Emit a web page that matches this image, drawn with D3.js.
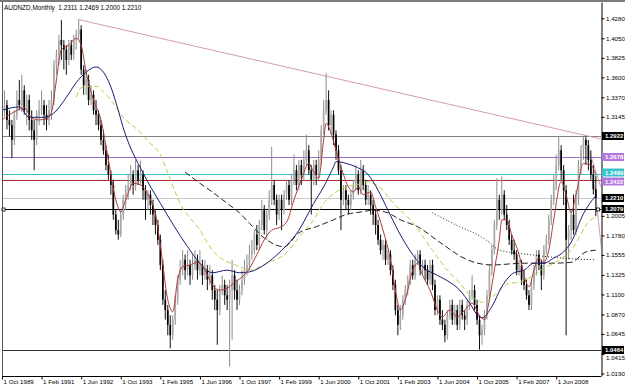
<!DOCTYPE html>
<html>
<head>
<meta charset="utf-8">
<script src="https://cdn.jsdelivr.net/npm/d3@7"></script>
<style>
  body { margin: 0; background: #fff; }
  svg text { font-family: "Liberation Sans", Arial, sans-serif; }
</style>
</head>
<body>
<div id="chart"></div>
<script>
// monthly AUDNZD bars, Oct 1989 .. Oct 2009
const opens = [
  1.317,1.322,1.328,
  1.311,1.305,1.288,1.317,1.334,1.328,1.345,1.322,1.334,1.311,1.299,1.288,
  1.317,1.322,1.328,1.317,1.311,1.322,1.334,1.374,1.386,1.403,1.397,1.392,
  1.380,1.397,1.386,1.403,1.409,1.415,1.369,1.351,1.357,1.334,1.340,1.322,
  1.317,1.305,1.288,1.276,1.259,1.248,1.236,1.202,1.184,1.179,1.202,1.219,
  1.230,1.236,1.248,1.236,1.253,1.242,1.248,1.230,1.219,1.225,1.213,1.202,
  1.190,1.173,1.144,1.104,1.092,1.075,1.063,1.081,1.104,1.127,1.138,1.150,
  1.138,1.144,1.132,1.144,1.150,1.138,1.144,1.132,1.138,1.127,1.132,1.115,
  1.104,1.092,1.115,1.121,1.109,1.104,1.115,1.132,1.115,1.104,1.115,1.127,
  1.138,1.144,1.156,1.161,1.179,1.167,1.190,1.207,1.184,1.202,1.219,1.236,
  1.219,1.202,1.219,1.207,1.225,1.236,1.219,1.242,1.253,1.236,1.259,1.248,
  1.265,1.276,1.253,1.242,1.259,1.248,1.265,1.299,1.322,1.334,1.305,1.317,
  1.294,1.276,1.253,1.219,1.230,1.219,1.213,1.225,1.236,1.248,1.230,1.253,
  1.236,1.219,1.225,1.213,1.202,1.190,1.173,1.161,1.167,1.150,1.156,1.138,
  1.121,1.092,1.075,1.086,1.104,1.115,1.127,1.144,1.132,1.150,1.156,1.138,
  1.144,1.138,1.127,1.144,1.121,1.092,1.104,1.081,1.075,1.063,1.086,1.098,
  1.081,1.092,1.075,1.098,1.086,1.081,1.098,1.109,1.115,1.098,1.081,1.063,
  1.069,1.086,1.109,1.138,1.161,1.190,1.219,1.207,1.225,1.202,1.190,1.173,
  1.161,1.156,1.138,1.144,1.127,1.121,1.109,1.098,1.121,1.138,1.156,1.144,
  1.132,1.161,1.173,1.196,1.219,1.236,1.259,1.276,1.253,1.230,1.173,1.184,
  1.202,1.184,1.219,1.259,1.276,1.288,1.282,1.265,1.248,1.2311
];
const highs = [
  1.338,1.345,1.334,
  1.322,1.311,1.322,1.345,1.357,1.363,1.351,1.340,1.340,1.322,1.311,1.322,
  1.334,1.345,1.334,1.328,1.334,1.345,1.380,1.392,1.409,1.426,1.403,1.397,
  1.403,1.403,1.409,1.415,1.427,1.420,1.374,1.369,1.363,1.351,1.345,1.334,
  1.322,1.311,1.299,1.282,1.271,1.253,1.242,1.207,1.196,1.207,1.225,1.236,
  1.248,1.259,1.253,1.265,1.259,1.264,1.253,1.236,1.230,1.230,1.219,1.207,
  1.196,1.179,1.150,1.115,1.098,1.086,1.086,1.109,1.132,1.150,1.161,1.156,
  1.161,1.150,1.156,1.161,1.156,1.161,1.150,1.150,1.144,1.144,1.138,1.121,
  1.115,1.121,1.132,1.127,1.121,1.127,1.150,1.138,1.127,1.121,1.138,1.150,
  1.156,1.167,1.173,1.184,1.190,1.196,1.219,1.213,1.207,1.230,1.280,1.242,
  1.225,1.225,1.225,1.230,1.242,1.242,1.248,1.271,1.259,1.265,1.265,1.276,
  1.294,1.282,1.259,1.265,1.265,1.276,1.305,1.334,1.365,1.345,1.322,1.322,
  1.299,1.282,1.259,1.236,1.236,1.225,1.230,1.242,1.259,1.253,1.265,1.259,
  1.242,1.236,1.230,1.219,1.207,1.196,1.179,1.173,1.173,1.161,1.161,1.144,
  1.127,1.098,1.098,1.109,1.121,1.132,1.150,1.150,1.156,1.161,1.161,1.150,
  1.150,1.144,1.150,1.150,1.127,1.109,1.109,1.092,1.081,1.092,1.104,1.104,
  1.098,1.098,1.104,1.104,1.092,1.104,1.115,1.132,1.121,1.104,1.086,1.075,
  1.092,1.115,1.144,1.167,1.196,1.244,1.225,1.246,1.230,1.213,1.196,1.179,
  1.173,1.161,1.150,1.150,1.138,1.127,1.115,1.127,1.144,1.161,1.161,1.150,
  1.167,1.179,1.202,1.225,1.248,1.271,1.292,1.282,1.259,1.236,1.190,1.207,
  1.225,1.230,1.265,1.282,1.292,1.292,1.288,1.276,1.259,1.2469
];
const lows = [
  1.300,1.315,1.300,
  1.292,1.267,1.282,1.311,1.322,1.320,1.317,1.305,1.299,1.288,1.253,1.282,
  1.305,1.317,1.305,1.299,1.305,1.311,1.328,1.363,1.374,1.380,1.369,1.363,
  1.374,1.380,1.380,1.392,1.403,1.363,1.340,1.340,1.328,1.328,1.317,1.305,
  1.299,1.282,1.271,1.253,1.242,1.225,1.196,1.179,1.173,1.176,1.196,1.207,
  1.219,1.230,1.225,1.230,1.236,1.236,1.219,1.196,1.207,1.202,1.190,1.179,
  1.167,1.138,1.098,1.081,1.063,1.048,1.058,1.075,1.098,1.121,1.132,1.127,
  1.132,1.121,1.127,1.138,1.127,1.132,1.121,1.127,1.115,1.121,1.104,1.092,
  1.052,1.086,1.109,1.098,1.092,1.027,1.058,1.104,1.092,1.098,1.109,1.121,
  1.132,1.138,1.150,1.156,1.161,1.161,1.184,1.179,1.173,1.196,1.213,1.213,
  1.190,1.196,1.184,1.202,1.219,1.213,1.213,1.236,1.230,1.230,1.236,1.242,
  1.259,1.248,1.202,1.236,1.236,1.242,1.259,1.294,1.317,1.299,1.294,1.282,
  1.265,1.248,1.184,1.213,1.207,1.202,1.207,1.219,1.230,1.225,1.225,1.230,
  1.213,1.213,1.202,1.190,1.179,1.167,1.156,1.150,1.144,1.144,1.132,1.115,
  1.086,1.063,1.069,1.081,1.098,1.109,1.121,1.127,1.127,1.144,1.132,1.132,
  1.127,1.121,1.121,1.115,1.086,1.086,1.075,1.069,1.055,1.058,1.081,1.075,
  1.075,1.069,1.069,1.081,1.069,1.075,1.092,1.104,1.092,1.075,1.0464,1.052,
  1.063,1.081,1.104,1.132,1.156,1.184,1.196,1.202,1.196,1.184,1.167,1.156,
  1.150,1.132,1.132,1.121,1.115,1.104,1.092,1.092,1.115,1.132,1.138,1.115,
  1.127,1.156,1.167,1.190,1.213,1.230,1.253,1.242,1.213,1.063,1.150,1.173,
  1.179,1.179,1.213,1.248,1.265,1.259,1.253,1.242,1.225,1.2000
];
const closes = [
  1.322,1.328,1.311,
  1.305,1.288,1.317,1.334,1.328,1.345,1.322,1.334,1.311,1.299,1.288,1.317,
  1.322,1.328,1.317,1.311,1.322,1.334,1.374,1.386,1.403,1.397,1.392,1.380,
  1.397,1.386,1.403,1.409,1.415,1.369,1.351,1.357,1.334,1.340,1.322,1.317,
  1.305,1.288,1.276,1.259,1.248,1.236,1.202,1.184,1.179,1.202,1.219,1.230,
  1.236,1.248,1.236,1.253,1.242,1.248,1.230,1.219,1.225,1.213,1.202,1.190,
  1.173,1.144,1.104,1.092,1.075,1.063,1.081,1.104,1.127,1.138,1.150,1.138,
  1.144,1.132,1.144,1.150,1.138,1.144,1.132,1.138,1.127,1.132,1.115,1.104,
  1.092,1.115,1.121,1.109,1.104,1.115,1.132,1.115,1.104,1.115,1.127,1.138,
  1.144,1.156,1.161,1.179,1.167,1.190,1.207,1.184,1.202,1.219,1.236,1.219,
  1.202,1.219,1.207,1.225,1.236,1.219,1.242,1.253,1.236,1.259,1.248,1.265,
  1.276,1.253,1.242,1.259,1.248,1.265,1.299,1.322,1.334,1.305,1.317,1.294,
  1.276,1.253,1.219,1.230,1.219,1.213,1.225,1.236,1.248,1.230,1.253,1.236,
  1.219,1.225,1.213,1.202,1.190,1.173,1.161,1.167,1.150,1.156,1.138,1.121,
  1.092,1.075,1.086,1.104,1.115,1.127,1.144,1.132,1.150,1.156,1.138,1.144,
  1.138,1.127,1.144,1.121,1.092,1.104,1.081,1.075,1.063,1.086,1.098,1.081,
  1.092,1.075,1.098,1.086,1.081,1.098,1.109,1.115,1.098,1.081,1.063,1.069,
  1.086,1.109,1.138,1.161,1.190,1.219,1.207,1.225,1.202,1.190,1.173,1.161,
  1.156,1.138,1.144,1.127,1.121,1.109,1.098,1.121,1.138,1.156,1.144,1.132,
  1.161,1.173,1.196,1.219,1.236,1.259,1.276,1.253,1.230,1.173,1.184,1.202,
  1.184,1.219,1.259,1.276,1.288,1.282,1.265,1.248,1.2311,1.2210
];

// indicator lines: [bar index, price]
const maRed = [[0,1.311],[3,1.317],[6,1.322],[9,1.325],[12,1.313],[15,1.311],[18,1.313],[20,1.320],[22,1.357],[24,1.392],[27,1.397],[30,1.405],[32,1.397],[34,1.366],[37,1.334],[40,1.311],[43,1.265],[46,1.219],[48,1.205],[50,1.219],[53,1.238],[56,1.236],[59,1.225],[62,1.202],[64,1.167],[67,1.104],[69,1.090],[71,1.127],[73,1.142],[76,1.144],[79,1.147],[82,1.138],[85,1.121],[88,1.115],[91,1.117],[94,1.124],[97,1.130],[100,1.140],[103,1.156],[106,1.173],[109,1.184],[112,1.187],[115,1.193],[118,1.219],[121,1.242],[124,1.261],[126,1.251],[128,1.244],[130,1.288],[131,1.307],[133,1.296],[135,1.276],[137,1.257],[140,1.234],[142,1.228],[144,1.234],[146,1.225],[149,1.228],[151,1.211],[154,1.184],[157,1.150],[159,1.115],[161,1.092],[163,1.104],[166,1.138],[168,1.146],[170,1.132],[173,1.115],[176,1.092],[178,1.084],[181,1.092],[184,1.084],[187,1.092],[190,1.100],[193,1.086],[195,1.081],[197,1.104],[199,1.138],[201,1.173],[202,1.196],[204,1.196],[206,1.179],[209,1.156],[211,1.132],[213,1.119],[215,1.138],[217,1.152],[219,1.147],[221,1.161],[223,1.196],[226,1.240],[228,1.225],[230,1.204],[232,1.225],[235,1.261],[238,1.259],[240,1.248]];
const maBlue = [[0,1.322],[7,1.326],[11,1.314],[17,1.314],[21,1.319],[26,1.337],[30,1.354],[34,1.366],[38,1.372],[41,1.366],[44,1.349],[47,1.322],[49,1.302],[57,1.250],[64,1.215],[75,1.165],[80,1.146],[85,1.135],[91,1.138],[96,1.135],[100,1.136],[107,1.146],[112,1.158],[120,1.184],[126,1.215],[130,1.234],[134,1.257],[135,1.263],[139,1.261],[143,1.257],[148,1.248],[152,1.230],[156,1.207],[160,1.184],[165,1.160],[170,1.142],[176,1.132],[181,1.124],[185,1.115],[189,1.100],[193,1.084],[194,1.083],[198,1.096],[202,1.119],[207,1.135],[211,1.138],[215,1.146],[219,1.146],[223,1.152],[227,1.159],[230,1.170],[235,1.203],[240,1.224]];
const maGreen = [[30,1.337],[32,1.348],[38,1.350],[41,1.343],[44,1.334],[49,1.314],[55,1.299],[60,1.284],[64,1.271],[67,1.250],[72,1.215],[80,1.184],[85,1.161],[96,1.142],[100,1.138],[107,1.146],[115,1.158],[120,1.176],[126,1.196],[130,1.215],[135,1.228],[139,1.234],[143,1.236],[148,1.240],[150,1.238],[154,1.230],[157,1.219],[161,1.207],[165,1.196],[174,1.161],[180,1.138],[185,1.123],[190,1.107],[194,1.101],[197,1.104],[201,1.115],[205,1.123],[209,1.124],[213,1.129],[219,1.140],[223,1.146],[227,1.153],[230,1.161],[238,1.196],[240,1.199]];
const maBlack = [[74,1.251],[80,1.238],[85,1.228],[91,1.215],[96,1.204],[100,1.192],[106,1.175],[114,1.165],[120,1.181],[127,1.188],[134,1.196],[139,1.202],[145,1.205],[150,1.207],[156,1.204],[161,1.196],[168,1.188],[177,1.170],[188,1.150],[198,1.144],[211,1.146],[222,1.146],[230,1.147],[236,1.159],[240,1.161]];
const maDotted = [[174,1.204],[185,1.188],[192,1.179],[197,1.170],[201,1.161],[213,1.156],[226,1.152],[240,1.150]];

// drawn objects
const trendMain = [[31,1.4265],[242,1.2891]];
const trendSteep1 = [[237.6,1.2730],[242,1.2340]];
const trendSteep2 = [[239.6,1.2340],[242.3,1.1620]];
const levelPrices = [1.2922, 1.2678, 1.2489, 1.2422, 1.2210, 1.2079, 1.0464];
const levelLine = ["#808080", "#9b6bc8", "#3cc0c8", "#a83232", "#c8c8c8", "#000000", "#303030"];
const levelBox = ["#000000", "#b377dd", "#3cc4cc", "#b377dd", "#000000", "#000000", "#000000"];
const levelNudge = [0, 0, -1.5, 1.5, 0, 0, 0];

const yTicks = [1.4280,1.4050,1.3825,1.3600,1.3370,1.3145,1.2005,1.1780,1.1555,1.1325,1.1100,1.0870,1.0645,1.0415,1.0190];
const xTickLabels = ["1 Oct 1989","1 Feb 1991","1 Jun 1992","1 Oct 1993","1 Feb 1995","1 Jun 1996","1 Oct 1997","1 Feb 1999","1 Jun 2000","1 Oct 2001","1 Feb 2003","1 Jun 2004","1 Oct 2005","1 Feb 2007","1 Jun 2008"];
const title = "AUDNZD,Monthly  1.2311 1.2469 1.2000 1.2210";

const months = d3.timeMonth.range(new Date(1989, 9, 1), new Date(2009, 10, 1));

const W = 625, H = 387;
const plot = {l: 2, r: 601, t: 2, b: 376};

const svg = d3.select("#chart").append("svg")
  .attr("width", W).attr("height", H)
  .style("display", "block");

const x = d3.scaleLinear().domain([0, months.length - 1]).range([2, 595.8]);
const y = d3.scaleLinear().domain([1.0161, 1.4468]).range([plot.b, plot.t]);

svg.append("clipPath").attr("id", "clip")
  .append("rect").attr("x", plot.l).attr("y", plot.t)
  .attr("width", plot.r - plot.l).attr("height", plot.b - plot.t);

const g = svg.append("g").attr("clip-path", "url(#clip)");

// horizontal levels
g.selectAll(".lvl").data(levelPrices).enter().append("line")
  .attr("x1", plot.l).attr("x2", plot.r)
  .attr("y1", d => Math.round(y(d)) + 0.5).attr("y2", d => Math.round(y(d)) + 0.5)
  .attr("stroke", (d, i) => levelLine[i]).attr("stroke-width", 1);

// trend lines
const seg = d3.line().x(d => x(d[0])).y(d => y(d[1]));
[trendMain, trendSteep1, trendSteep2].forEach(t => {
  g.append("path").attr("d", seg(t)).attr("fill", "none")
    .attr("stroke", "#d49ab8").attr("stroke-width", 1);
});

// candles
const bars = g.selectAll(".bar").data(months).enter().append("g").attr("class", "bar");
const bull = i => closes[i] >= opens[i];
bars.append("line")
  .attr("x1", (d, i) => x(i)).attr("x2", (d, i) => x(i))
  .attr("y1", (d, i) => y(highs[i])).attr("y2", (d, i) => y(lows[i]))
  .attr("stroke", (d, i) => bull(i) ? "#8c8c8c" : "#111")
  .attr("stroke-width", 1);
bars.append("rect")
  .attr("x", (d, i) => x(i) - 0.85)
  .attr("width", 1.7)
  .attr("y", (d, i) => y(Math.max(opens[i], closes[i])))
  .attr("height", (d, i) => Math.max(0.8, Math.abs(y(opens[i]) - y(closes[i]))))
  .attr("fill", (d, i) => bull(i) ? "#a9a9a9" : "#000");

// moving averages
const maLine = d3.line().x(d => x(d[0])).y(d => y(d[1])).curve(d3.curveMonotoneX);
g.append("path").attr("d", maLine(maDotted)).attr("fill", "none")
  .attr("stroke", "#222").attr("stroke-width", 1).attr("stroke-dasharray", "1,2");
g.append("path").attr("d", maLine(maBlack)).attr("fill", "none")
  .attr("stroke", "#222").attr("stroke-width", 1).attr("stroke-dasharray", "6,3");
g.append("path").attr("d", maLine(maGreen)).attr("fill", "none")
  .attr("stroke", "#a8d448").attr("stroke-width", 1).attr("stroke-dasharray", "5,3");
g.append("path").attr("d", maLine(maBlue)).attr("fill", "none")
  .attr("stroke", "#1c1c78").attr("stroke-width", 1);
g.append("path").attr("d", maLine(maRed)).attr("fill", "none")
  .attr("stroke", "#b03a3a").attr("stroke-width", 1);

// small square markers on the 1.2079 line
[3.5, 598].forEach(px => {
  svg.append("rect").attr("x", px - 1.5).attr("y", Math.round(y(levelPrices[5])) - 1)
    .attr("width", 3).attr("height", 3).attr("fill", "#fff").attr("stroke", "#000").attr("stroke-width", 0.8);
});

// frame
svg.append("line").attr("x1", 0).attr("x2", W).attr("y1", 1).attr("y2", 1).attr("stroke", "#7a7a7a").attr("stroke-width", 2);
svg.append("line").attr("x1", plot.l + 0.5).attr("x2", plot.l + 0.5).attr("y1", plot.t).attr("y2", plot.b).attr("stroke", "#555");

// price axis
const yAxis = svg.append("g").attr("transform", `translate(${plot.r + 0.5},0)`)
  .call(d3.axisRight(y).tickValues(yTicks).tickFormat(d3.format(".4f")).tickSize(3).tickSizeOuter(0));
yAxis.select(".domain").attr("stroke", "#000");
yAxis.selectAll("text").attr("x", 4.5).attr("font-size", "6.2px").attr("fill", "#000")
  .attr("dy", d => d === 1.0415 ? "0.95em" : "0.32em");

// date axis
const xAxis = svg.append("g").attr("transform", `translate(0,${plot.b + 0.5})`)
  .call(d3.axisBottom(x).tickValues(d3.range(0, 225, 16)).tickFormat((d, i) => xTickLabels[i]).tickSize(3).tickSizeOuter(0));
xAxis.select(".domain").attr("stroke", "#000").attr("d", `M${plot.l},0H${plot.r}`);
xAxis.selectAll("text").attr("text-anchor", "start").attr("x", 1).attr("y", 3.5).attr("font-size", "6.2px").attr("fill", "#000");

// price labels for levels
const boxes = svg.selectAll(".lbl").data(levelPrices).enter().append("g")
  .attr("transform", (d, i) => `translate(${plot.r + 1},${Math.round(y(d)) + levelNudge[i]})`);
boxes.append("rect").attr("x", 0).attr("y", -4).attr("width", 22).attr("height", 8)
  .attr("fill", (d, i) => levelBox[i]);
boxes.append("text").attr("x", 3).attr("y", 2.2).attr("font-size", "6px").attr("font-weight", "bold")
  .attr("fill", "#fff").text(d => d.toFixed(4));

// title
svg.append("text").attr("x", 4).attr("y", 10).attr("font-size", "6.4px").attr("fill", "#000")
  .attr("xml:space", "preserve").text(title);
</script>
</body>
</html>
